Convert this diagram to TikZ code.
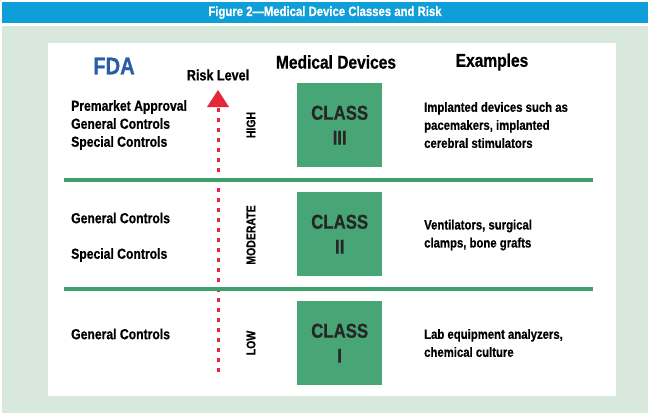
\documentclass[tikz,border=0pt]{standalone}
\usepackage{fontspec}
\setmainfont{Liberation Sans}[FakeStretch=0.84,BoldFont={Liberation Sans Bold},BoldFeatures={FakeStretch=0.84,FakeBold=0.6}]
\usetikzlibrary{arrows.meta}
\definecolor{hdr}{HTML}{0E9FD8}
\definecolor{bgg}{HTML}{D9E8DD}
\definecolor{grn}{HTML}{3EA06A}
\definecolor{box}{HTML}{48A575}
\definecolor{rd}{HTML}{E8263A}
\definecolor{fda}{HTML}{2A5CA8}
\begin{document}
\begin{tikzpicture}[x=1pt,y=-1pt,
  t/.style={font=\bfseries\fontsize{14.5}{18}\selectfont,anchor=west,align=left,inner sep=0},
  e/.style={font=\bfseries\fontsize{13.5}{18}\selectfont,anchor=west,align=left,inner sep=0},
  ttl/.style={font=\bfseries\fontsize{18.5}{20}\selectfont,inner sep=0},
  cls/.style={fill=box,minimum width=85,minimum height=84,anchor=north west,inner sep=0,font=\bfseries\fontsize{20}{25}\selectfont,text=black!85,align=center},
  lvl/.style={font=\bfseries\fontsize{12.5}{13}\selectfont,rotate=90,inner sep=0},
  sep/.style={draw=grn,line width=3.5pt}]
\useasboundingbox (0,0) rectangle (650,415);
\fill[white] (0,0) rectangle (650,415);
\fill[hdr] (2,2) rectangle (648,23);
\node[text=white,font=\bfseries\fontsize{13.5}{15}\selectfont] (h) at (325,12.5) {Figure 2---Medical Device Classes and Risk};
\fill[bgg] (2,26) rectangle (648,413);
\fill[white] (48,43) rectangle (616,396);
\node[text=fda,font=\bfseries\fontsize{24}{24}\selectfont] (fda) at (114,66) {FDA};
\node[ttl,font=\bfseries\fontsize{15}{16}\selectfont] (rl) at (218,75) {Risk Level};
\node[ttl] (md) at (336,62) {Medical Devices};
\node[ttl] (ex) at (492,62) {Examples};
\coordinate (a1) at (218,372);
\coordinate (a2) at (218,104);
\draw[rd,line width=3pt,dash pattern=on 4pt off 6pt] (a1) -- (a2);
\fill[rd] (207,107) -- (229,107) -- (218,90) -- cycle;
\draw[sep] (64,180) -- (593,180);
\draw[sep] (64,289) -- (593,289);
\node[t] (p1) at (71,125) {Premarket Approval\\General Controls\\Special Controls};
\node[t] (p2a) at (71,218) {General Controls};
\node[t] (p2b) at (71,255) {Special Controls};
\node[t] (p3) at (71,334) {General Controls};
\node[lvl] (l1) at (251,125) {HIGH};
\node[lvl] (l2) at (251,235) {MODERATE};
\node[lvl] (l3) at (251,343) {LOW};
\node[cls] (c1) at (297,83) {CLASS\\III};
\node[cls] (c2) at (297,192) {CLASS\\II};
\node[cls] (c3) at (297,301) {CLASS\\I};
\node[e] (e1) at (424,125) {Implanted devices such as\\pacemakers, implanted\\cerebral stimulators};
\node[e] (e2) at (424,235) {Ventilators, surgical\\clamps, bone grafts};
\node[e] (e3) at (424,343) {Lab equipment analyzers,\\chemical culture};
\end{tikzpicture}
\end{document}
